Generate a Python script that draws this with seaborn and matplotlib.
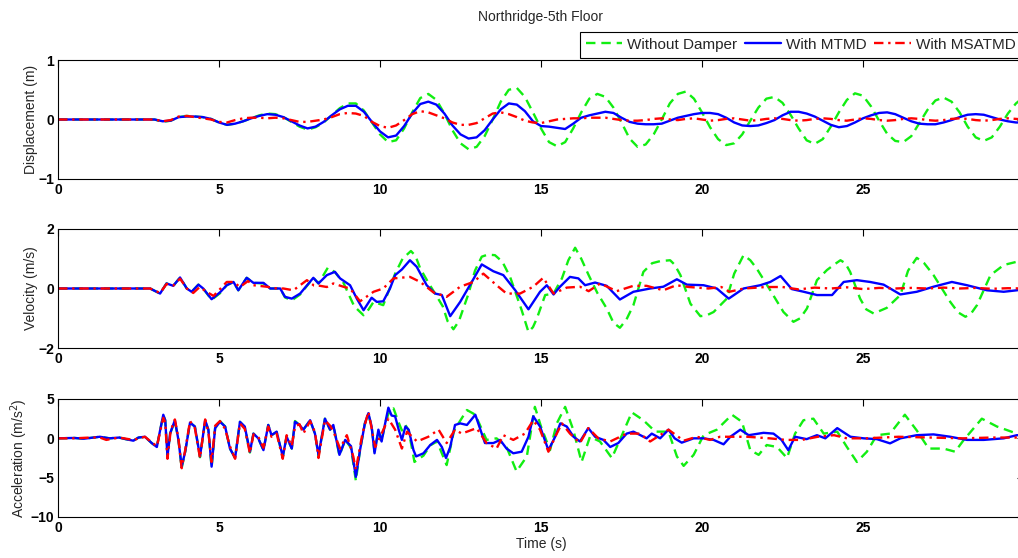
import numpy as np
import pandas as pd
import matplotlib
matplotlib.use("Agg")
import matplotlib.pyplot as plt
import seaborn as sns

# ---------------------------------------------------------------- data
series_names = ["Without Damper", "With MTMD", "With MSATMD"]

# displacement (m), sampled every 0.25 s from 0 to 30 s
disp_step = 0.25
disp_green = [0.0] * 12 + [
    0.0, -0.04, -0.02, 0.04, 0.06, 0.05, 0.04, 0.01,
    -0.05, -0.09, -0.07, -0.03, 0.02, 0.07, 0.10, 0.09,
    0.04, -0.04, -0.12, -0.17, -0.13, -0.05, 0.07, 0.19,
    0.27, 0.27, 0.15, -0.05, -0.25, -0.38, -0.35, -0.15,
    0.12, 0.36, 0.43, 0.33, 0.10, -0.18, -0.40, -0.50,
    -0.46, -0.28, 0.0, 0.30, 0.50, 0.53, 0.38, 0.12,
    -0.15, -0.38, -0.45, -0.38, -0.15, 0.12, 0.35, 0.43,
    0.38, 0.20, -0.05, -0.32, -0.46, -0.42, -0.25, 0.0,
    0.27, 0.43, 0.47, 0.35, 0.12, -0.13, -0.33, -0.43,
    -0.40, -0.25, -0.02, 0.20, 0.35, 0.38, 0.28, 0.08,
    -0.15, -0.35, -0.41, -0.33, -0.12, 0.12, 0.33, 0.44,
    0.40, 0.22, -0.02, -0.24, -0.36, -0.38, -0.28, -0.06,
    0.16, 0.32, 0.37, 0.30, 0.12, -0.12, -0.30, -0.36,
    -0.30, -0.12, 0.10, 0.27, 0.38]
disp_blue = [0.0] * 12 + [
    0.0, -0.03, -0.02, 0.04, 0.05, 0.05, 0.04, 0.01,
    -0.05, -0.09, -0.07, -0.03, 0.02, 0.06, 0.09, 0.08,
    0.04, -0.03, -0.10, -0.15, -0.12, -0.04, 0.07, 0.17,
    0.23, 0.23, 0.13, -0.04, -0.20, -0.30, -0.27, -0.11,
    0.10, 0.26, 0.30, 0.25, 0.10, -0.10, -0.25, -0.32,
    -0.30, -0.18, 0.0, 0.17, 0.27, 0.25, 0.14, -0.03,
    -0.11, -0.12, -0.14, -0.16, -0.07, 0.03, 0.07, 0.10,
    0.13, 0.11, 0.03, -0.04, -0.07, -0.08, -0.08, -0.07,
    -0.02, 0.03, 0.06, 0.09, 0.11, 0.11, 0.09, 0.03,
    -0.05, -0.10, -0.11, -0.10, -0.06, -0.01, 0.07, 0.13,
    0.13, 0.10, 0.05, -0.02, -0.09, -0.13, -0.11, -0.05,
    0.02, 0.07, 0.11, 0.12, 0.09, 0.03, -0.03, -0.07,
    -0.08, -0.08, -0.05, -0.01, 0.04, 0.08, 0.09, 0.08,
    0.04, 0.0, -0.03, -0.05, -0.05]
disp_red = [0.0] * 12 + [
    0.0, -0.03, -0.01, 0.05, 0.06, 0.04, 0.02, 0.0,
    -0.04, -0.05, -0.01, 0.02, 0.03, 0.03, 0.02, 0.03,
    0.02, -0.01, -0.04, -0.04, -0.02, 0.0, 0.04, 0.09,
    0.11, 0.10, 0.06, -0.04, -0.11, -0.14, -0.10, -0.01,
    0.09, 0.14, 0.12, 0.07, 0.02, -0.05, -0.09, -0.09,
    -0.06, 0.02, 0.10, 0.12, 0.09, 0.04, -0.02, -0.05,
    -0.06, -0.03, 0.0, 0.01, 0.02, 0.02, 0.03, 0.03,
    0.03, 0.01, -0.01, -0.02, -0.02, -0.01, 0.01, 0.02,
    0.0, -0.01, 0.01, 0.02, 0.0, -0.02, -0.01, 0.01,
    0.02, 0.0, -0.02, -0.01, 0.01, 0.02, 0.01, -0.01,
    -0.02, -0.01, 0.01, 0.02, 0.01, -0.01, -0.02, 0.0,
    0.02, 0.01, -0.01, -0.02, -0.01, 0.01, 0.02, 0.01,
    -0.01, -0.02, -0.01, 0.01, 0.02, 0.01, -0.01, -0.02,
    -0.01, 0.01, 0.02, 0.01, 0.0]

# velocity (m/s): (time s, value)
vel_green = [
    (0, 0), (2.86, 0), (3.17, -0.17), (3.37, 0.17), (3.58, 0.09), (3.79, 0.37),
    (4.0, 0.0), (4.15, -0.11), (4.36, 0.13), (4.51, 0.0), (4.77, -0.38),
    (5.03, -0.16), (5.24, 0.11), (5.45, 0.22), (5.6, -0.06), (5.86, 0.36),
    (6.07, 0.19), (6.38, 0.17), (6.59, 0.0), (6.9, 0.0), (7.05, -0.30),
    (7.26, -0.40), (7.52, -0.20), (7.93, 0.36), (8.09, 0.17), (8.38, 0.70),
    (8.6, 0.55), (8.86, 0.20), (9.2, -0.60), (9.49, -0.90), (9.65, -0.70),
    (9.8, -0.45), (10.1, -0.56), (10.3, 0.0), (10.47, 0.50), (10.7, 1.0),
    (10.96, 1.26), (11.1, 1.1), (11.25, 0.67), (11.5, 0.2), (11.71, -0.17),
    (11.95, -0.6), (12.1, -1.1), (12.28, -1.37), (12.45, -1.1), (12.75, -0.17),
    (12.95, 0.6), (13.16, 1.07), (13.35, 1.14), (13.57, 1.12), (13.8, 0.9),
    (14.04, 0.39), (14.4, -0.73), (14.61, -1.46), (14.75, -1.3), (14.87, -1.01),
    (15.13, -0.22), (15.39, -0.17), (15.65, 0.34), (15.85, 0.95), (16.06, 1.37),
    (16.25, 1.0), (16.48, 0.45), (16.75, -0.15), (17.04, -0.67), (17.25, -1.15),
    (17.45, -1.32), (17.65, -1.05), (17.87, -0.56), (18.18, 0.56), (18.45, 0.85),
    (18.7, 0.92), (19.01, 0.95), (19.15, 0.8), (19.33, 0.45), (19.64, -0.51),
    (19.95, -0.93), (20.15, -0.9), (20.36, -0.79), (20.77, -0.34), (21.0, 0.5),
    (21.29, 1.12), (21.5, 0.95), (21.7, 0.67), (22.12, -0.06), (22.53, -0.79),
    (22.84, -1.12), (23.05, -1.0), (23.26, -0.67), (23.57, 0.28), (23.88, 0.62),
    (24.1, 0.8), (24.3, 0.95), (24.45, 0.85), (24.6, 0.56), (24.91, -0.34),
    (25.1, -0.7), (25.33, -0.84), (25.74, -0.65), (26.16, -0.22), (26.4, 0.6),
    (26.67, 1.03), (26.9, 0.85), (27.19, 0.45), (27.71, -0.45), (27.95, -0.8),
    (28.18, -0.95), (28.35, -0.85), (28.54, -0.56), (28.96, 0.45), (29.37, 0.79),
    (29.78, 0.90), (30.0, 0.85)]
vel_blue = [
    (0, 0), (2.86, 0), (3.17, -0.17), (3.37, 0.17), (3.58, 0.09), (3.79, 0.37),
    (4.0, 0.0), (4.15, -0.11), (4.36, 0.13), (4.51, 0.0), (4.77, -0.36),
    (5.03, -0.13), (5.24, 0.11), (5.45, 0.22), (5.6, -0.06), (5.86, 0.36),
    (6.07, 0.19), (6.38, 0.19), (6.59, 0.0), (6.9, 0.0), (7.05, -0.28),
    (7.26, -0.34), (7.52, -0.17), (7.93, 0.36), (8.09, 0.17), (8.35, 0.45),
    (8.6, 0.56), (8.76, 0.34), (9.07, 0.11), (9.28, -0.34), (9.49, -0.73),
    (9.74, -0.31), (9.9, -0.45), (10.1, -0.43), (10.31, 0.0), (10.47, 0.45),
    (10.68, 0.64), (10.93, 0.95), (11.14, 0.73), (11.45, 0.11), (11.71, -0.17),
    (11.92, -0.22), (12.18, -0.93), (12.49, -0.45), (12.85, 0.22), (13.16, 0.81),
    (13.52, 0.58), (13.83, 0.45), (14.2, -0.06), (14.61, -0.70), (14.97, -0.11),
    (15.18, 0.11), (15.39, -0.20), (15.59, 0.06), (15.9, 0.39), (16.16, 0.34),
    (16.37, 0.11), (16.68, 0.20), (17.04, 0.09), (17.45, -0.37), (17.87, -0.11),
    (18.39, 0.0), (18.8, 0.06), (19.22, 0.31), (19.53, 0.13), (20.05, 0.11),
    (20.46, 0.0), (20.83, -0.34), (21.29, 0.0), (21.81, 0.11), (22.12, 0.22),
    (22.44, 0.42), (22.79, -0.02), (23.16, -0.11), (23.57, -0.22), (24.04, -0.22),
    (24.4, 0.22), (24.81, 0.28), (25.22, 0.22), (25.64, 0.13), (26.16, -0.20),
    (26.67, -0.11), (27.19, 0.06), (27.76, 0.22), (28.23, 0.11), (28.85, -0.06),
    (29.37, -0.11), (29.78, -0.06), (30.0, -0.03)]
vel_red = [
    (0, 0), (2.86, 0), (3.17, -0.15), (3.37, 0.15), (3.58, 0.10), (3.79, 0.33),
    (4.0, 0.0), (4.2, -0.15), (4.4, 0.05), (4.6, -0.10), (4.83, -0.25),
    (5.05, 0.0), (5.24, 0.22), (5.45, 0.22), (5.65, 0.05), (5.9, 0.25),
    (6.07, 0.11), (6.48, 0.06), (6.8, 0.0), (7.0, 0.0), (7.31, -0.06),
    (7.73, 0.28), (7.95, 0.10), (8.14, 0.09), (8.35, 0.05), (8.55, 0.17),
    (8.86, 0.06), (9.07, 0.0), (9.38, -0.43), (9.8, -0.11), (10.1, 0.0),
    (10.42, 0.34), (10.93, 0.39), (11.25, 0.22), (11.66, -0.13), (12.07, -0.28),
    (12.49, 0.06), (12.9, 0.22), (13.21, 0.50), (13.62, 0.11), (13.93, -0.17),
    (14.35, -0.17), (14.76, 0.06), (15.07, 0.36), (15.39, -0.17), (15.8, 0.03),
    (16.21, 0.06), (16.48, -0.09), (16.84, 0.17), (17.35, -0.09), (17.87, 0.09),
    (18.28, 0.09), (18.8, -0.06), (19.2, 0.11), (19.6, 0.05), (20.2, 0.0),
    (20.6, 0.05), (20.85, -0.11), (21.3, 0.0), (22.0, 0.05), (22.5, 0.05),
    (23.0, -0.03), (23.5, 0.03), (24.0, 0.0), (24.5, 0.04), (25.0, -0.02),
    (25.5, 0.02), (26.0, 0.0), (26.5, 0.02), (27.0, 0.0), (27.5, 0.03),
    (28.0, 0.0), (28.5, 0.02), (29.0, -0.01), (29.5, 0.01), (30.0, 0.0)]

# acceleration (m/s^2): (time s, value)
acc_green = [
    (0, 0), (0.5, 0.05), (0.8, -0.05), (1.0, 0.05), (1.3, 0.2), (1.6, 0.0),
    (1.9, 0.1), (2.1, -0.1), (2.34, -0.3), (2.5, 0.1), (2.7, 0.2), (2.91, -0.6),
    (3.07, -1.1), (3.17, 1.0), (3.27, 2.9), (3.33, 2.3), (3.4, -2.2), (3.48, 0.6),
    (3.63, 2.2), (3.74, -0.2), (3.84, -3.8), (3.95, -1.7), (4.1, 2.0), (4.25, 1.5),
    (4.41, -2.4), (4.57, 2.2), (4.67, 1.1), (4.77, -3.7), (4.88, 1.3), (5.03, 2.2),
    (5.19, 1.5), (5.34, -1.3), (5.5, -2.5), (5.65, 2.1), (5.8, 1.4), (5.96, -1.8),
    (6.07, 0.6), (6.22, 0.0), (6.38, -1.5), (6.53, 1.7), (6.63, 0.4), (6.79, 0.8),
    (6.98, -2.4), (7.1, 0.2), (7.26, -1.3), (7.36, 2.2), (7.5, 1.7), (7.62, 1.1),
    (7.83, 2.3), (7.98, 0.6), (8.09, -2.2), (8.29, 2.5), (8.45, 1.1), (8.55, 1.7),
    (8.74, -2.2), (8.92, -0.2), (9.1, -1.2), (9.25, -5.4), (9.38, -1.5),
    (9.53, 1.9), (9.64, 3.0), (9.74, 1.5), (9.83, -1.7), (9.95, 1.0), (10.05, -0.4),
    (10.16, 2.0), (10.3, 3.5), (10.42, 3.8), (10.58, 2.0), (10.68, 1.0),
    (10.79, 1.7), (10.89, 1.0), (11.07, -3.0), (11.35, -2.2), (11.56, -0.9),
    (11.77, -0.4), (12.07, -3.4), (12.3, 1.0), (12.7, 3.6), (12.96, 3.0),
    (13.31, -0.2), (13.62, 0.0), (13.93, -1.1), (14.24, -4.2), (14.56, -2.3),
    (14.81, 4.0), (15.0, 1.5), (15.28, -1.5), (15.49, 1.9), (15.75, 4.0),
    (16.0, 1.1), (16.26, -3.0), (16.52, 0.2), (16.83, -0.4), (17.2, -2.5),
    (17.45, -0.2), (17.82, 3.3), (18.18, 2.3), (18.55, 0.85), (18.96, 0.85),
    (19.22, -2.3), (19.43, -3.5), (19.74, -2.1), (20.05, 0.4), (20.46, 1.1),
    (20.93, 3.0), (21.24, 2.1), (21.5, -1.5), (21.76, -2.1), (22.01, -0.85),
    (22.33, -1.1), (22.64, -2.5), (22.89, 0.6), (23.15, 2.3), (23.46, 2.5),
    (23.78, 0.6), (24.2, 0.85), (24.5, -1.1), (24.81, -3.0), (25.12, -1.7),
    (25.43, 0.4), (25.84, 0.6), (26.3, 3.0), (26.67, 1.0), (27.04, -1.3),
    (27.5, -1.3), (27.86, -1.7), (28.13, -0.2), (28.69, 2.5), (29.16, 1.5),
    (29.78, 0.6), (30.0, 0.4)]
acc_blue = [
    (0, 0), (0.5, 0.05), (0.8, -0.05), (1.0, 0.05), (1.3, 0.2), (1.6, 0.0),
    (1.9, 0.1), (2.1, -0.1), (2.34, -0.3), (2.5, 0.1), (2.7, 0.2), (2.91, -0.6),
    (3.07, -1.1), (3.17, 1.0), (3.27, 3.0), (3.33, 2.3), (3.4, -2.3), (3.48, 0.6),
    (3.63, 2.3), (3.74, -0.2), (3.84, -3.6), (3.95, -1.7), (4.1, 2.0), (4.25, 1.5),
    (4.41, -2.3), (4.57, 2.3), (4.67, 1.1), (4.77, -3.6), (4.88, 1.3), (5.03, 2.1),
    (5.19, 1.5), (5.34, -1.3), (5.5, -2.5), (5.65, 2.1), (5.8, 1.5), (5.96, -1.7),
    (6.07, 0.6), (6.22, 0.0), (6.38, -1.5), (6.53, 1.7), (6.63, 0.4), (6.79, 0.85),
    (6.98, -2.3), (7.1, 0.2), (7.26, -1.3), (7.36, 2.1), (7.5, 1.7), (7.62, 1.1),
    (7.83, 2.3), (7.98, 0.6), (8.09, -2.1), (8.29, 2.5), (8.45, 1.1), (8.55, 1.7),
    (8.74, -2.1), (8.92, -0.2), (9.1, -1.0), (9.25, -4.9), (9.38, -1.5),
    (9.53, 1.9), (9.64, 3.2), (9.74, 1.5), (9.83, -1.9), (9.95, 1.1), (10.05, -0.4),
    (10.16, 1.9), (10.26, 3.9), (10.36, 2.9), (10.47, 2.8), (10.58, 1.1),
    (10.68, -0.2), (10.79, 1.5), (10.89, 1.1), (11.04, -1.5), (11.12, -2.3),
    (11.35, -1.9), (11.56, -0.85), (11.77, -0.2), (11.92, -1.1), (12.05, -2.5),
    (12.18, -1.1), (12.33, 1.7), (12.49, 1.9), (12.7, 1.7), (12.96, 3.0),
    (13.1, 1.3), (13.26, -0.6), (13.52, -0.6), (13.73, -0.2), (13.93, -1.3),
    (14.14, -1.9), (14.4, -1.7), (14.61, 0.2), (14.76, 2.8), (14.97, 1.5),
    (15.23, -1.5), (15.44, 0.2), (15.6, 1.9), (15.8, 1.5), (16.01, 0.2),
    (16.21, -0.4), (16.47, 1.3), (16.68, 0.2), (16.94, -0.2), (17.15, -1.1),
    (17.4, -0.6), (17.66, 0.6), (17.87, 0.85), (18.28, 0.0), (18.44, 0.6),
    (18.7, 0.0), (18.96, 1.1), (19.15, 0.0), (19.37, -0.55), (19.74, 0.0),
    (20.05, 0.0), (20.36, -0.2), (20.67, -0.76), (20.88, 0.2), (21.19, 1.1),
    (21.45, 0.4), (21.91, 0.7), (22.22, 0.6), (22.47, -0.2), (22.68, -1.5),
    (22.89, 0.2), (23.25, -0.1), (23.57, 0.4), (23.83, 0.0), (24.2, 1.3),
    (24.61, 0.2), (25.02, 0.0), (25.43, -0.1), (25.84, -0.64), (26.16, 0.0),
    (26.67, 0.4), (27.19, 0.5), (27.71, 0.2), (28.23, -0.2), (28.75, -0.2),
    (29.37, 0.0), (29.78, 0.4), (30.0, 0.4)]
acc_red = [
    (0, 0), (0.5, 0.0), (1.0, 0.1), (1.3, 0.1), (1.5, -0.2), (1.9, 0.1),
    (2.34, -0.2), (2.7, 0.2), (2.91, -0.5), (3.07, -1.0), (3.17, 0.8), (3.27, 2.6),
    (3.33, 2.0), (3.4, -2.6), (3.5, 1.0), (3.63, 2.4), (3.74, 0.0), (3.84, -3.8),
    (3.95, -1.5), (4.1, 2.2), (4.25, 1.3), (4.41, -2.5), (4.57, 2.4), (4.67, 0.8),
    (4.77, -3.0), (4.88, 1.6), (5.03, 2.2), (5.19, 1.2), (5.34, -1.0), (5.5, -2.6),
    (5.65, 1.9), (5.8, 1.2), (5.96, -1.9), (6.07, 0.5), (6.22, 0.2), (6.38, -1.2),
    (6.53, 1.5), (6.63, 0.2), (6.79, 0.6), (6.98, -2.6), (7.1, 0.4), (7.26, -1.0),
    (7.36, 1.5), (7.5, 1.8), (7.62, 0.6), (7.83, 2.2), (7.98, 0.8), (8.09, -2.5),
    (8.29, 2.3), (8.45, 1.6), (8.55, 0.9), (8.76, -1.3), (8.97, 0.4), (9.17, -2.3),
    (9.25, -4.0), (9.45, 0.5), (9.64, 3.4), (9.85, -1.1), (10.05, 0.6),
    (10.26, 2.5), (10.47, 1.1), (10.68, -1.3), (10.84, 0.85), (11.15, -0.4),
    (11.5, 0.2), (11.82, 1.1), (12.07, -0.6), (12.33, 1.1), (12.54, 0.6),
    (13.0, 1.3), (13.31, -0.6), (13.62, -1.3), (13.83, 0.4), (14.14, -0.2),
    (14.5, 0.6), (14.76, 2.3), (14.97, 1.1), (15.23, -1.7), (15.49, 0.6),
    (15.65, 1.9), (15.9, 0.6), (16.21, -0.6), (16.47, 1.3), (16.78, 0.0),
    (17.15, -0.4), (17.66, 0.6), (18.07, 0.6), (18.39, -0.4), (18.96, 1.1),
    (19.43, -0.3), (19.84, 0.2), (20.25, -0.2), (20.56, 0.2), (21.4, 0.2),
    (22.1, 0.0), (22.6, -0.2), (23.1, -0.2), (23.6, 0.2), (24.1, 0.4),
    (24.5, 0.0), (25.1, 0.0), (26.1, 0.2), (27.1, 0.1), (28.1, 0.0),
    (29.0, 0.1), (29.78, 0.1), (30.0, 0.1)]

# ---------------------------------------------------------------- style
sns.set_style("white")
plt.rcParams["font.family"] = ["Liberation Sans", "DejaVu Sans"]
plt.rcParams["font.size"] = 10

colors = ["#11ee11", "#0000ff", "#ff0000"]
styles = [(0, (4, 2.5)), "-", (0, (4, 2, 1, 2))]

fig = plt.figure(figsize=(10.18, 5.58), dpi=100)
W_PX, H_PX = 1018, 558
left, width = 58 / W_PX, 966 / W_PX
ax_d = fig.add_axes([left, 1 - 179 / H_PX, width, 119 / H_PX])
ax_v = fig.add_axes([left, 1 - 348 / H_PX, width, 119 / H_PX])
ax_a = fig.add_axes([left, 1 - 517 / H_PX, width, 118 / H_PX])

disp_time = np.arange(len(disp_green)) * disp_step
disp_sets = [pd.DataFrame({"t": disp_time, "v": s}) for s in (disp_green, disp_blue, disp_red)]
vel_sets = [pd.DataFrame(s, columns=["t", "v"]) for s in (vel_green, vel_blue, vel_red)]
acc_sets = [pd.DataFrame(s, columns=["t", "v"]) for s in (acc_green, acc_blue, acc_red)]

panels = [
    (ax_d, disp_sets, "Displacement (m)", (-1, 1), [-1, 0, 1]),
    (ax_v, vel_sets, "Velocity (m/s)", (-2, 2), [-2, 0, 2]),
    (ax_a, acc_sets, "Acceleration (m/s$^2$)", (-10, 5), [-10, -5, 0, 5]),
]

for ax, sets, ylabel, ylim, yticks in panels:
    for df, name, c, ls in zip(sets, series_names, colors, styles):
        sns.lineplot(data=df, x="t", y="v", ax=ax, color=c, linewidth=1.7,
                     estimator=None, sort=False, label=name, legend=False)
        ax.lines[-1].set_linestyle(ls)
    ax.set_xlim(0, 30)
    ax.set_ylim(*ylim)
    ax.set_xticks([0, 5, 10, 15, 20, 25])
    ax.set_yticks(yticks)
    ax.set_xlabel("")
    ax.set_ylabel(ylabel, fontsize=10, labelpad=0)
    ax.tick_params(direction="in", length=5, width=0.8, top=True, right=True,
                   labelsize=10, pad=3, colors="black")
    for lab in ax.get_xticklabels() + ax.get_yticklabels():
        lab.set_fontweight("bold")
    for sp in ax.spines.values():
        sp.set_visible(True)
        sp.set_color("black")
        sp.set_linewidth(0.8)

ax_a.set_xlabel("Time (s)", fontsize=10, labelpad=1)

fig.text((58 + 1024) / 2 / W_PX, 1 - 17 / H_PX, "Northridge-5th Floor",
         ha="center", va="center", fontsize=10)

handles = ax_d.lines[:3]
leg = fig.legend(handles, series_names, loc="upper left", ncol=3,
                 bbox_to_anchor=(580 / W_PX, 1 - 32 / H_PX), borderaxespad=0,
                 frameon=True, fancybox=False, edgecolor="black", framealpha=1,
                 fontsize=11, handlelength=2.4, handletextpad=0.3,
                 columnspacing=0.5, borderpad=0.38)
leg.get_frame().set_linewidth(0.8)

fig.savefig("out.png", dpi=100)
